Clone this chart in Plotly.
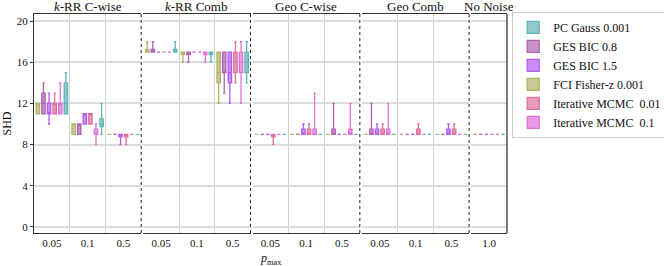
import plotly.graph_objects as go
from plotly.subplots import make_subplots

# ---- data ----
sections = ["<i>k</i>-RR C-wise", "<i>k</i>-RR Comb", "Geo C-wise", "Geo Comb", "No Noise"]
section_ticks = [["0.05", "0.1", "0.5"], ["0.05", "0.1", "0.5"], ["0.05", "0.1", "0.5"],
                 ["0.05", "0.1", "0.5"], ["1.0"]]

# per series: (min, q1, median, q3, max) for the 13 positions in section/tick order
fci_stats = [(11, 11, 12, 12, 12), (9, 9, 10, 10, 10), (9, 9, 9, 9, 9),
             (17, 17, 17, 17.25, 18), (16, 16.75, 17, 17, 17), (12, 14, 15, 17, 17),
             (9, 9, 9, 9, 9), (9, 9, 9, 9, 9), (9, 9, 9, 9, 9),
             (9, 9, 9, 9, 9), (9, 9, 9, 9, 9), (9, 9, 9, 9, 9),
             (9, 9, 9, 9, 9)]
ges08_stats = [(11, 11, 12, 13, 14), (9, 9, 10, 10, 10), (9, 9, 9, 9, 9),
               (17, 17, 17, 17.25, 18), (16, 16.75, 17, 17, 17), (13, 15, 15, 17, 17),
               (9, 9, 9, 9, 9), (9, 9, 9, 9, 9), (9, 9, 9, 9.5, 12),
               (9, 9, 9, 9.5, 12), (9, 9, 9, 9, 9), (9, 9, 9, 9, 9),
               (9, 9, 9, 9, 9)]
ges15_stats = [(10, 11, 11, 12, 13), (10, 10, 11, 11, 11), (8, 8.75, 9, 9, 9),
               (17, 17, 17, 17, 17), (17, 17, 17, 17, 17), (12, 14, 15, 17, 17),
               (9, 9, 9, 9, 9), (9, 9, 9, 9.5, 10), (9, 9, 9, 9, 9),
               (9, 9, 9, 9.5, 10), (9, 9, 9, 9, 9), (9, 9, 9, 9.5, 10),
               (9, 9, 9, 9, 9)]
mcmc001_stats = [(11, 11, 12, 12, 13), (10, 10, 11, 11, 11), (8, 8.75, 9, 9, 9),
                 (17, 17, 17, 17, 17), (17, 17, 17, 17, 17), (14, 15, 17, 17, 18),
                 (8, 8.75, 9, 9, 9), (9, 9, 9, 9.5, 10), (9, 9, 9, 9, 9),
                 (9, 9, 9, 9.5, 10), (9, 9, 9, 9.5, 10), (9, 9, 9, 9.5, 10),
                 (9, 9, 9, 9, 9)]
mcmc01_stats = [(11, 11, 12, 12, 14), (8, 9, 9, 9.5, 10), (9, 9, 9, 9, 9),
                (17, 17, 17, 17, 17), (16, 16.75, 17, 17, 17), (12, 15, 16, 17, 18),
                (9, 9, 9, 9, 9), (9, 9, 9, 9.5, 13), (9, 9, 9, 9.5, 12),
                (9, 9, 9, 9.5, 12), (9, 9, 9, 9, 9), (9, 9, 9, 9, 9),
                (9, 9, 9, 9, 9)]
pc_stats = [(11, 11, 12, 14, 15), (9, 9.75, 10, 10.5, 12), (9, 9, 9, 9, 9),
            (17, 17, 17, 17.25, 18), (16, 16.75, 17, 17, 17), (14, 15, 16, 17, 18),
            (9, 9, 9, 9, 9), (9, 9, 9, 9, 9), (9, 9, 9, 9, 9),
            (9, 9, 9, 9, 9), (9, 9, 9, 9, 9), (9, 9, 9, 9, 9),
            (9, 9, 9, 9, 9)]

# plotting order (within each group) and legend rank
series_names = ["FCI Fisher-z 0.001", "GES BIC 0.8", "GES BIC 1.5",
                "Iterative MCMC\u00a0 0.01", "Iterative MCMC\u00a0 0.1", "PC Gauss 0.001"]
series_stats = [fci_stats, ges08_stats, ges15_stats, mcmc001_stats, mcmc01_stats, pc_stats]
series_colors = ["#b3b266", "#b062b0", "#b25cf0", "#e0709c", "#e070d8", "#5fb5b5"]
legend_rank = [4, 2, 3, 5, 6, 1]

FONT = "Liberation Serif"

def rgba(hexc, a):
    h = hexc.lstrip("#")
    return f"rgba({int(h[0:2],16)},{int(h[2:4],16)},{int(h[4:6],16)},{a})"

fig = make_subplots(rows=1, cols=5, shared_yaxes=True, column_widths=[3, 3, 3, 3, 1],
                    horizontal_spacing=0.0045, subplot_titles=sections)

for si, ticks in enumerate(section_ticks):
    start = sum(len(t) for t in section_ticks[:si])
    pos = list(range(len(ticks)))
    for k, (name, stats, col, rank) in enumerate(zip(series_names, series_stats, series_colors, legend_rank)):
        part = stats[start:start + len(ticks)]
        fig.add_trace(go.Box(
            x=pos,
            lowerfence=[p[0] for p in part],
            q1=[p[1] for p in part],
            median=[p[2] for p in part],
            q3=[p[3] for p in part],
            upperfence=[p[4] for p in part],
            name=name, legendgroup=name, showlegend=(si == 0), legendrank=rank,
            offsetgroup=str(k), alignmentgroup=f"sec{si}",
            fillcolor=rgba(col, 0.7), line=dict(color=col, width=1.3),
            whiskerwidth=0.7, boxpoints=False,
        ), row=1, col=si + 1)

fig.update_layout(
    width=664, height=266,
    margin=dict(l=34, r=157, t=14, b=33, autoexpand=False),
    paper_bgcolor="white", plot_bgcolor="white",
    boxmode="group", boxgap=0.06, boxgroupgap=0.4,
    font=dict(family=FONT, size=12, color="#111"),
    legend=dict(x=1.011, y=1.01, xanchor="left", yanchor="top", itemwidth=30,
                bordercolor="#cccccc", borderwidth=1, font=dict(size=12, family=FONT),
                bgcolor="white", traceorder="normal"),
)

for i in range(1, 6):
    ticks = section_ticks[i - 1]
    n = len(ticks)
    fig.update_xaxes(range=[-0.5, n - 0.5], tickmode="array", tickvals=list(range(n)), ticktext=ticks,
                     ticks="", showgrid=False, zeroline=False,
                     minor=dict(tickmode="array", tickvals=[j - 0.5 for j in range(n + 1)],
                                showgrid=True, gridcolor="#d0d0d0", gridwidth=1, ticks=""),
                     showline=True, linecolor="#333", linewidth=1.3, mirror=True,
                     tickfont=dict(size=11, family=FONT), row=1, col=i)
    fig.update_yaxes(range=[-0.6, 20.7], dtick=4, tick0=0, showgrid=True,
                     gridcolor="#dcdcdc", gridwidth=1.5, zeroline=False, row=1, col=i)

fig.update_yaxes(showline=True, linecolor="#333", linewidth=1.3, ticks="outside",
                 ticklen=3, tickcolor="#333", tickfont=dict(size=11, family=FONT),
                 title=dict(text="SHD", font=dict(size=12, family=FONT), standoff=10),
                 row=1, col=1)

# section separators
for i in range(1, 5):
    fig.add_shape(type="line", xref=f"x{i if i > 1 else ''} domain", yref="y domain",
                  x0=1, x1=1, y0=0, y1=1, line=dict(color="#222", width=1, dash="dot"))
fig.add_shape(type="line", xref="x5 domain", yref="y domain",
              x0=1, x1=1, y0=0, y1=1, line=dict(color="#333", width=1.3))

for a in fig.layout.annotations:
    a.font = dict(size=13, family=FONT, color="#111")
    a.yshift = -2

fig.add_annotation(text="<i>p</i><sub>max</sub>", xref="paper", yref="paper",
                   x=0.5, y=-0.075, yanchor="top", showarrow=False,
                   font=dict(size=12, family=FONT))

fig.write_html("out.html", config={"displayModeBar": False},
               post_script="document.body.style.margin='0';document.body.style.padding='0';"
                           "document.body.style.overflow='hidden';")
